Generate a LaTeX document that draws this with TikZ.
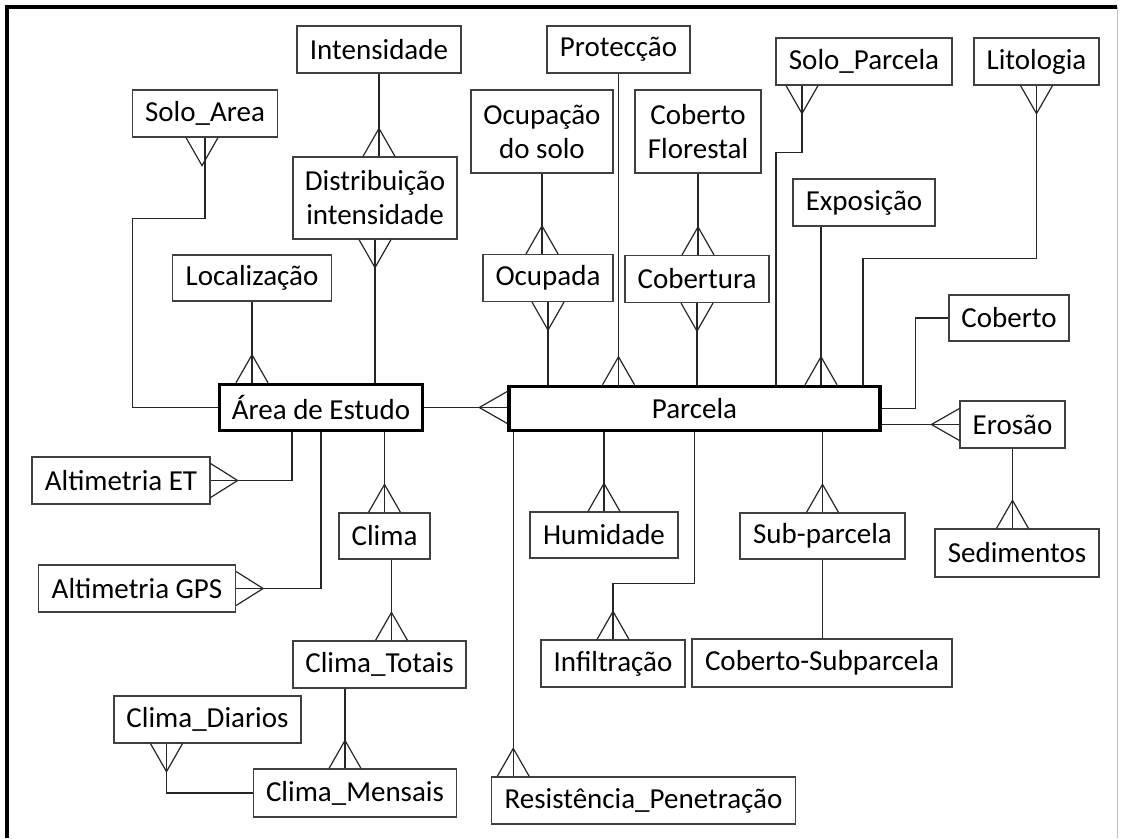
\documentclass[tikz,border=0pt]{standalone}
\usepackage{fontspec}
\setmainfont{Carlito}
\usetikzlibrary{calc}

\tikzset{
  ent/.style={draw=black!75, line width=1.2pt, inner sep=0pt, align=center,
    font=\fontsize{29}{34}\selectfont},
  main/.style={ent, draw=black, line width=3.5pt},
  footup/.pic={\draw (-16,0) -- (0,-28) -- (16,0);},
  footdown/.pic={\draw (-16,0) -- (0,28) -- (16,0);},
  footleft/.pic={\draw (0,-16) -- (-28,0) -- (0,16);},
  footright/.pic={\draw (0,-17) -- (27,0) -- (0,17);}
}

\begin{document}
\begin{tikzpicture}[x=1pt, y=-1pt, line width=1.2pt, draw=black!85]
      \useasboundingbox (0,0) rectangle (1123,838);
      \draw[black!25, line width=1pt] (1117,7) -- (1117,838);
      \draw[black, line width=3.5pt] (7,838) -- (7,7) -- (1117,7);

      \node[ent, minimum width=164pt, minimum height=47pt] (Intensidade) at (379,49.5) {Intensidade};
      \node[ent, minimum width=145pt, minimum height=47pt] (SoloArea) at (205,113.5) {Solo\_Area};
      \node[ent, minimum width=164pt, minimum height=82pt] (Distribuicao) at (375,198) {Distribuição\\intensidade};
      \node[ent, minimum width=159pt, minimum height=46pt] (Localizacao) at (252,278) {Localização};
      \node[main, minimum width=203pt, minimum height=46pt] (Area) at (321,407.5) {Área de Estudo};
      \node[ent, minimum width=143pt, minimum height=47pt] (Proteccao) at (618.5,49.5) {Protecção};
      \node[ent, minimum width=142pt, minimum height=83pt] (Ocupacao) at (542,131.5) {Ocupação\\do solo};
      \node[ent, minimum width=126pt, minimum height=83pt] (Florestal) at (698,131.5) {Coberto\\Florestal};
      \node[ent, minimum width=176pt, minimum height=47pt] (SoloParcela) at (864,61.5) {Solo\_Parcela};
      \node[ent, minimum width=125pt, minimum height=47pt] (Litologia) at (1036.5,61.5) {Litologia};
      \node[ent, minimum width=142pt, minimum height=47pt] (Exposicao) at (864,202.5) {Exposição};
      \node[ent, minimum width=130pt, minimum height=47pt] (Ocupada) at (548,278) {Ocupada};
      \node[ent, minimum width=144pt, minimum height=47pt] (Cobertura) at (697,279) {Cobertura};
      \node[ent, minimum width=120pt, minimum height=46pt] (Coberto) at (1009,318) {Coberto};
      \node[main, minimum width=371pt, minimum height=44pt] (Parcela) at (694.5,408.5) {Parcela};
      \node[ent, minimum width=105pt, minimum height=47pt] (Erosao) at (1012.5,424.5) {Erosão};
      \node[ent, minimum width=164pt, minimum height=48pt] (Sedimentos) at (1017,553) {Sedimentos};
      \node[ent, minimum width=148pt, minimum height=46pt] (Humidade) at (604,535) {Humidade};
      \node[ent, minimum width=144pt, minimum height=47pt] (Infiltracao) at (613,663.5) {Infiltração};
      \node[ent, minimum width=165pt, minimum height=46pt] (SubParcela) at (822.5,536) {Sub-parcela};
      \node[ent, minimum width=260pt, minimum height=48pt] (CobertoSub) at (822,663) {Coberto-Subparcela};
      \node[ent, minimum width=304pt, minimum height=47pt] (Resistencia) at (643.5,800.5) {Resistência\_Penetração};
      \node[ent, minimum width=178pt, minimum height=47pt] (AltET) at (121,480.5) {Altimetria ET};
      \node[ent, minimum width=197pt, minimum height=47pt] (AltGPS) at (137,588.5) {Altimetria GPS};
      \node[ent, minimum width=91pt, minimum height=46pt] (Clima) at (384.5,536) {Clima};
      \node[ent, minimum width=173pt, minimum height=47pt] (ClimaTotais) at (379.5,664.5) {Clima\_Totais};
      \node[ent, minimum width=187pt, minimum height=47pt] (ClimaDiarios) at (207.5,719.5) {Clima\_Diarios};
      \node[ent, minimum width=203pt, minimum height=48pt] (ClimaMensais) at (355,793) {Clima\_Mensais};

      \begin{scope}[-]
        % Area de Estudo
        \draw (SoloArea.south) -- ++(0,81) -| ([xshift=-85pt]Area.west) -- (Area.west);
        \draw (Intensidade.south) -- (Intensidade.south |- Distribuicao.north);
        \draw (Distribuicao.south) -- (Distribuicao.south |- Area.north);
        \draw (Localizacao.south) -- (Localizacao.south |- Area.north);
        \draw (Area.east) -- (Area.east -| Parcela.west);
        \draw ([xshift=-29pt]Area.south) |- (AltET.east);
        \draw (Area.south) |- (AltGPS.east);
        \draw (Clima.north |- Area.south) -- (Clima.north);
        \draw ([xshift=7pt]Clima.south) -- ([xshift=7pt]Clima.south |- ClimaTotais.north);
        \draw ([xshift=-10pt]ClimaMensais.north) -- ([xshift=-10pt]ClimaMensais.north |- ClimaTotais.south);
        \draw ([xshift=-41pt]ClimaDiarios.south) |- (ClimaMensais.west);
        % Parcela
        \draw (Ocupacao.south) -- (Ocupacao.south |- Ocupada.north);
        \draw (Ocupada.south) -- (Ocupada.south |- Parcela.north);
        \draw (Proteccao.south) -- (Proteccao.south |- Parcela.north);
        \draw (Florestal.south) -- (Florestal.south |- Cobertura.north);
        \draw (Cobertura.south) -- (Cobertura.south |- Parcela.north);
        \draw ([xshift=-62pt]SoloParcela.south) -- ++(0,67) -| ([xshift=81.5pt]Parcela.north);
        \draw ([xshift=-43pt]Exposicao.south) -- ([xshift=-43pt]Exposicao.south |- Parcela.north);
        \draw (Litologia.south) -- ++(0,173) -| ([xshift=168.5pt]Parcela.north);
        \draw (Coberto.west) -- ++(-33,0) |- (Parcela.east);
        \draw (Erosao.west) -- (Erosao.west -| Parcela.east);
        \draw (Erosao.south) -- (Erosao.south |- Sedimentos.north);
        \draw (Humidade.north |- Parcela.south) -- (Humidade.north);
        \draw (Parcela.south) -- ++(0,151) -| (Infiltracao.north);
        \draw (SubParcela.north |- Parcela.south) -- (SubParcela.north);
        \draw (SubParcela.south) -- (SubParcela.south |- CobertoSub.north);
        \draw ([xshift=6pt]Parcela.south west) -- ([xshift=6pt]Parcela.south west |- Resistencia.north);
        % crow's feet
        \pic at ([xshift=-3pt]SoloArea.south) {footdown};
        \pic at (Intensidade.south |- Distribuicao.north) {footup};
        \pic at (Distribuicao.south) {footdown};
        \pic at (Localizacao.south |- Area.north) {footup};
        \pic at (Parcela.west |- Area.east) {footleft};
        \pic at (AltET.east) {footright};
        \pic at (AltGPS.east) {footright};
        \pic at (Clima.north) {footup};
        \pic at ([xshift=7pt]Clima.south |- ClimaTotais.north) {footup};
        \pic at ([xshift=-10pt]ClimaMensais.north) {footup};
        \pic at ([xshift=-41pt]ClimaDiarios.south) {footdown};
        \pic at (Ocupacao.south |- Ocupada.north) {footup};
        \pic at (Ocupada.south) {footdown};
        \pic at (Proteccao.south |- Parcela.north) {footup};
        \pic at (Florestal.south |- Cobertura.north) {footup};
        \pic at (Cobertura.south) {footdown};
        \pic at ([xshift=-62pt]SoloParcela.south) {footdown};
        \pic at ([xshift=-43pt]Exposicao.south |- Parcela.north) {footup};
        \pic at (Litologia.south) {footdown};
        \pic at (Erosao.west) {footleft};
        \pic at (Sedimentos.north -| Erosao.south) {footup};
        \pic at (Humidade.north) {footup};
        \pic at (Infiltracao.north) {footup};
        \pic at (SubParcela.north) {footup};
        \pic at ([xshift=6pt]Parcela.south west |- Resistencia.north) {footup};
      \end{scope}
    \end{tikzpicture}
\end{document}
